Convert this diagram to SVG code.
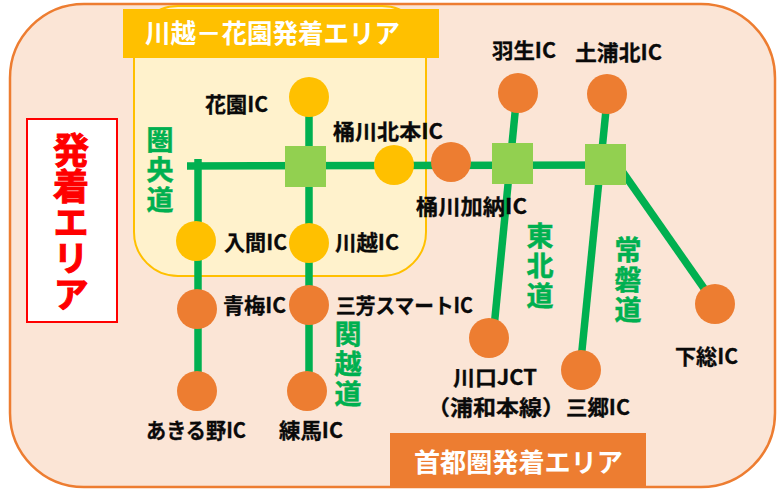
<svg xmlns="http://www.w3.org/2000/svg" width="782" height="495" viewBox="0 0 782 495">
<style>
text{font-family:"Noto Sans CJK JP","Liberation Sans",sans-serif;font-weight:700}
.l{font-size:21px;fill:#0a0a0a;stroke:#0a0a0a;stroke-width:.3}
.r{font-size:27px;fill:#00b050;stroke:#00b050;stroke-width:.5;writing-mode:vertical-rl;letter-spacing:3px}
.t{font-size:26px;fill:#fff}
.o{fill:#ed7d31}.y{fill:#ffc000}.s{fill:#92d050}
.c line{stroke:#00b050;stroke-width:7.5;fill:none}
</style>
<rect x="10" y="4" width="765" height="483" rx="74" ry="74" fill="#fbe5d6" stroke="#ed7d31" stroke-width="2.5"/>
<g id="area-kawagoe"><rect x="134" y="6" width="292" height="270" rx="44" fill="#fff2cc" stroke="#ffc000" stroke-width="2"/>
<rect x="123" y="9" width="316" height="49" fill="#ffc000"/>
<text class="t" x="145" y="43" textLength="255" lengthAdjust="spacingAndGlyphs">川越－花園発着エリア</text></g>
<g id="area-main"><rect x="27" y="119" width="90" height="203" fill="#fff" stroke="#f00" stroke-width="2"/>
<text x="71" y="132" font-size="36" fill="#f00" stroke="#f00" stroke-width="1" style="writing-mode:vertical-rl">発着エリア</text></g>
<g class="c" id="connectors">
<line x1="187" y1="166" x2="626" y2="165"/>
<line x1="198" y1="159" x2="198" y2="392"/>
<line x1="309" y1="97" x2="309" y2="392"/>
<line x1="517" y1="93" x2="493" y2="338"/>
<line x1="607.5" y1="95" x2="580" y2="370"/>
<line x1="622" y1="171" x2="715" y2="304"/>
</g>
<g id="hanazono"><circle class="y" cx="309" cy="97" r="20"/><text class="l" x="205" y="112" textLength="63" lengthAdjust="spacingAndGlyphs">花園IC</text></g>
<g id="j1"><rect class="s" x="285" y="146" width="41" height="41"/></g>
<g id="okegawakita"><circle class="y" cx="394" cy="165" r="20"/><text class="l" x="333" y="139" textLength="110" lengthAdjust="spacingAndGlyphs">桶川北本IC</text></g>
<g id="okegawakano"><circle class="o" cx="451" cy="162" r="20"/><text class="l" x="416" y="214" textLength="111" lengthAdjust="spacingAndGlyphs">桶川加納IC</text></g>
<g id="j2"><rect class="s" x="492" y="143" width="41" height="41"/></g>
<g id="j3"><rect class="s" x="585" y="144" width="41" height="41"/></g>
<g id="iruma"><circle class="y" cx="196" cy="241" r="20"/><text class="l" x="224" y="250" textLength="63" lengthAdjust="spacingAndGlyphs">入間IC</text></g>
<g id="kawagoe"><circle class="y" cx="309" cy="243" r="20"/><text class="l" x="335" y="250" textLength="64" lengthAdjust="spacingAndGlyphs">川越IC</text></g>
<g id="ome"><circle class="o" cx="197" cy="309" r="20"/><text class="l" x="223" y="313" textLength="63" lengthAdjust="spacingAndGlyphs">青梅IC</text></g>
<g id="miyoshi"><circle class="o" cx="309" cy="305" r="20"/><text class="l" x="336" y="313" textLength="137" lengthAdjust="spacingAndGlyphs">三芳スマートIC</text></g>
<g id="akiruno"><circle class="o" cx="197" cy="391" r="20"/><text class="l" x="146" y="438" textLength="100" lengthAdjust="spacingAndGlyphs">あきる野IC</text></g>
<g id="nerima"><circle class="o" cx="307" cy="391" r="20"/><text class="l" x="279" y="438" textLength="64" lengthAdjust="spacingAndGlyphs">練馬IC</text></g>
<g id="hanyu"><circle class="o" cx="518" cy="93" r="20"/><text class="l" x="492" y="58" textLength="64" lengthAdjust="spacingAndGlyphs">羽生IC</text></g>
<g id="tsuchiura"><circle class="o" cx="607" cy="94" r="20"/><text class="l" x="575" y="60" textLength="87" lengthAdjust="spacingAndGlyphs">土浦北IC</text></g>
<g id="kawaguchi"><circle class="o" cx="489" cy="338" r="20"/><text class="l" x="453" y="385" textLength="84" lengthAdjust="spacingAndGlyphs">川口JCT</text><text class="l" x="427" y="415" textLength="138" lengthAdjust="spacingAndGlyphs">（浦和本線）</text></g>
<g id="misato"><circle class="o" cx="581" cy="370" r="20"/><text class="l" x="566" y="415" textLength="64" lengthAdjust="spacingAndGlyphs">三郷IC</text></g>
<g id="shimofusa"><circle class="o" cx="715" cy="304" r="20"/><text class="l" x="675" y="364" textLength="63" lengthAdjust="spacingAndGlyphs">下総IC</text></g>
<g id="labels">
<text class="r" x="160" y="126">圏央道</text>
<text class="r" x="348" y="320">関越道</text>
<text class="r" x="540" y="222">東北道</text>
<text class="r" x="628" y="236">常磐道</text>
</g>
<g id="area-metro"><rect x="390" y="433" width="256" height="55" fill="#ed7d31"/>
<text class="t" x="414" y="472" textLength="209" lengthAdjust="spacingAndGlyphs">首都圏発着エリア</text></g>
</svg>
